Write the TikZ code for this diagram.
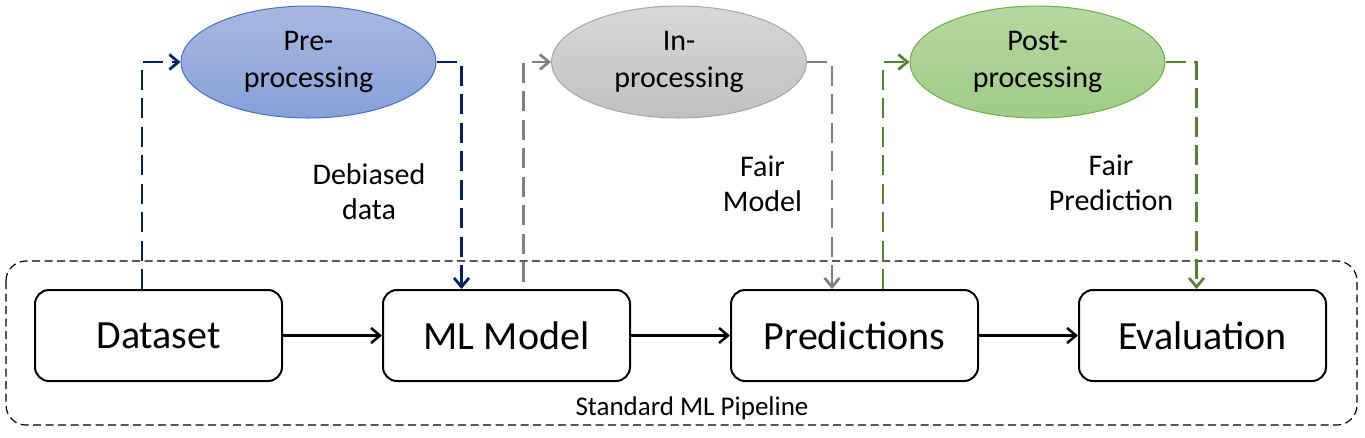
\documentclass[tikz,border=0pt]{standalone}
\usepackage{fontspec}
\setmainfont{Carlito}
\usepackage{tikz}
\usetikzlibrary{positioning,shapes.geometric,arrows.meta}

\definecolor{preblue}{RGB}{0,32,96}
\definecolor{inegray}{RGB}{128,128,128}
\definecolor{postgreen}{RGB}{84,130,53}

\begin{document}
\begin{tikzpicture}[
			x=1pt,y=1pt,
			>={Straight Barb[length=9pt,width=15pt]},
			stage/.style={
				draw,
				line width=2pt,
				rectangle,
				rounded corners=14pt,
				minimum width=247pt,
				minimum height=91pt,
				font=\fontsize{40}{44}\selectfont,
			},
			fairbox/.style={
				ellipse,
				minimum width=255pt,
				minimum height=112pt,
				inner sep=0pt,
				align=center,
				line width=1pt,
				font=\fontsize{30}{37}\selectfont,
			},
			note/.style={
				align=center,
				font=\fontsize{30}{35}\selectfont,
			},
			link/.style={
				line width=2.7pt,
				dash pattern=on 20pt off 8.5pt,
			},
			flow/.style={
				->,
				line width=2.5pt,
			}
		]
		\useasboundingbox (0,0) rectangle (1365,-437);

		\node[stage] (data) at (158.5,-335.5) {Dataset};
		\node[stage,right=99pt of data] (model) {ML Model};
		\node[stage,right=99pt of model] (pred) {Predictions};
		\node[stage,right=99pt of pred] (eval) {Evaluation};

		\draw[line width=1.2pt,dash pattern=on 8pt off 4.5pt,rounded corners=20pt] (6,-261) rectangle (1357,-425);
		\node[font=\fontsize{27}{32}\selectfont] (pipe) at (692,-408) {Standard ML Pipeline};

		\node[fairbox,draw={rgb,255:red,68;green,114;blue,196},top color={rgb,255:red,168;green,184;blue,224},bottom color={rgb,255:red,136;green,160;blue,216}] (pre) at (308.5,-62) {Pre-\\processing};
		\node[fairbox,draw={rgb,255:red,166;green,166;blue,166},top color={rgb,255:red,216;green,216;blue,216},bottom color={rgb,255:red,192;green,192;blue,192}] (inp) at (679,-62) {In-\\processing};
		\node[fairbox,draw={rgb,255:red,112;green,173;blue,71},top color={rgb,255:red,182;green,215;blue,161},bottom color={rgb,255:red,160;green,204;blue,134}] (post) at (1037.5,-62) {Post-\\processing};

		\node[note] (debiased) at (369,-192) {Debiased\\data};
		\node[note] (fairmodel) at (762.5,-184) {Fair\\Model};
		\node[note] (fairpred) at (1111,-183) {Fair\\Prediction};

		\draw (data) edge[flow] (model);
		\draw (model) edge[flow] (pred);
		\draw (pred) edge[flow] (eval);

		\draw[link,->,preblue] ([xshift=-16.5pt]data.north) |- (pre.west);
		\draw[link,->,preblue] (pre.east) -| ([xshift=-45pt]model.north);

		\coordinate (instart) at ([xshift=17pt,yshift=7pt]model.north);
		\draw[link,->,inegray] (instart) |- (inp.west);
		\draw[link,->,inegray] (inp.east) -| ([xshift=-22.5pt]pred.north);

		\draw[link,->,postgreen] ([xshift=28.5pt]pred.north) |- (post.west);
		\draw[link,->,postgreen] (post.east) -| ([xshift=-6pt]eval.north);

	\end{tikzpicture}
\end{document}
